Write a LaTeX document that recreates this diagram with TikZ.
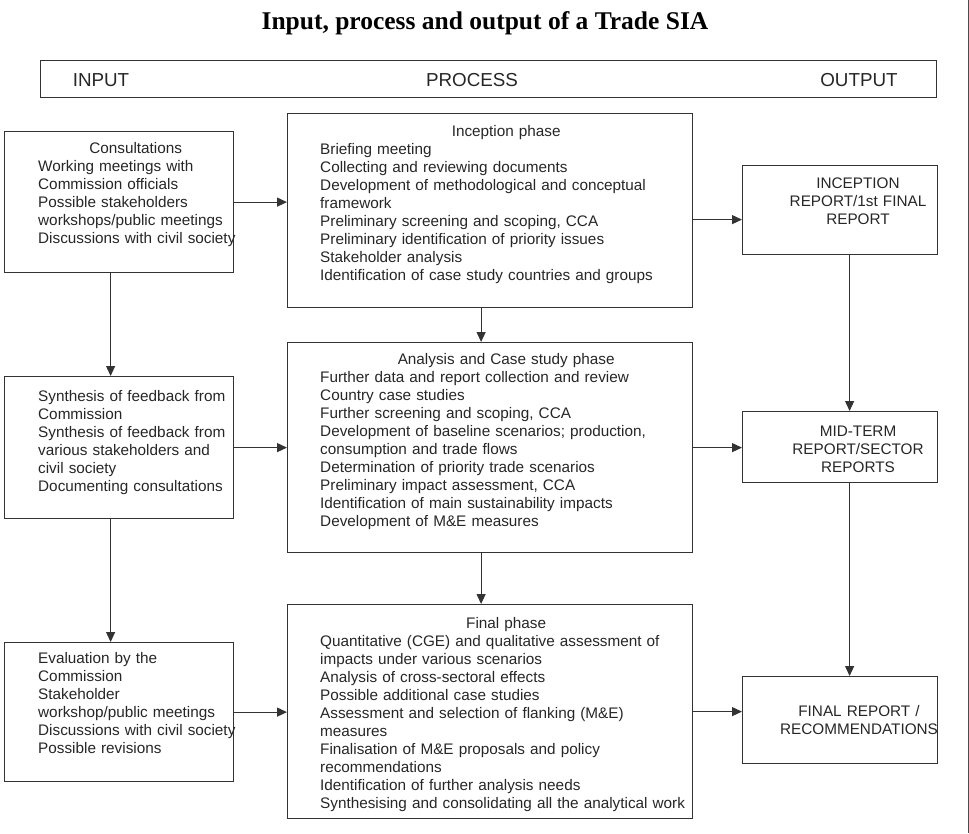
\documentclass[tikz,border=0pt]{standalone}
\usepackage{fontspec}
\setmainfont{Liberation Sans}
\newfontfamily\titlefont{Liberation Serif}
\usetikzlibrary{positioning,arrows.meta}

\begin{document}
\begin{tikzpicture}[x=1pt,y=-1pt,
    box/.style={draw=black!80, line width=1.2pt, inner sep=0pt, anchor=north west},
    txt/.style={inner sep=0pt, anchor=base west, align=left, text=black!85,
        font=\fontsize{15.3}{18}\selectfont},
    rep/.style={inner sep=0pt, anchor=base, text width=172pt, align=center, text=black!85,
        font=\fontsize{15.3}{18}\selectfont},
    hdr/.style={inner sep=0pt, anchor=base, text=black!85, font=\fontsize{18.8}{22}\selectfont},
    arr/.style={draw=black!80, line width=1.2pt, -{Triangle[length=10pt,width=9pt]}}]
    \useasboundingbox (0,0) rectangle (969,833);
    \node[inner sep=0pt, anchor=base, font=\titlefont\bfseries\fontsize{25.5}{30}\selectfont] (title) at (485,29) {Input, process and output of a Trade SIA};
    \node[box, minimum width=896pt, minimum height=37pt] (header) at (40,60) {};
    \node[hdr] (hin) at (101,86) {INPUT};
    \node[hdr] (hproc) at (472,86) {PROCESS};
    \node[hdr] (hout) at (859,86) {OUTPUT};
    \node[box, minimum width=229pt, minimum height=141pt] (cons) at (4,131) {};
    \node[box, minimum width=229pt, minimum height=142pt] (synth) at (4,376) {};
    \node[box, minimum width=229pt, minimum height=139pt] (evalu) at (4,642) {};
    \node[box, minimum width=405pt, minimum height=194pt] (incep) at (287,113) {};
    \node[box, minimum width=405pt, minimum height=210pt] (analys) at (287,342) {};
    \node[box, minimum width=405pt, minimum height=214pt] (final) at (287,604) {};
    \node[box, minimum width=195pt, minimum height=89pt] (increp) at (742,165) {};
    \node[box, minimum width=195pt, minimum height=71pt] (midrep) at (742,411) {};
    \node[box, minimum width=195pt, minimum height=87pt] (finrep) at (742,676) {};
    \node[txt, text width=300pt] (constxt) at (38,153.5) {\makebox[195pt]{Consultations}\\
        Working meetings with\\ Commission officials\\ Possible stakeholders\\
        workshops/public meetings\\ Discussions with civil society};
    \node[txt, text width=300pt] (synthtxt) at (38,401.5) {Synthesis of feedback from\\
        Commission\\ Synthesis of feedback from\\ various stakeholders and\\
        civil society\\ Documenting consultations};
    \node[txt, text width=300pt] (evalutxt) at (38,663.5) {Evaluation by the\\ Commission\\
        Stakeholder\\ workshop/public meetings\\ Discussions with civil society\\
        Possible revisions};
    \node[txt, text width=420pt] (inceptxt) at (320,136.5) {\makebox[372pt]{Inception phase}\\
        Briefing meeting\\ Collecting and reviewing documents\\
        Development of methodological and conceptual\\ framework\\
        Preliminary screening and scoping, CCA\\ Preliminary identification of priority issues\\
        Stakeholder analysis\\ Identification of case study countries and groups};
    \node[txt, text width=420pt] (analystxt) at (320,364.5) {\makebox[372pt]{Analysis and Case study phase}\\
        Further data and report collection and review\\ Country case studies\\
        Further screening and scoping, CCA\\
        Development of baseline scenarios; production,\\ consumption and trade flows\\
        Determination of priority trade scenarios\\ Preliminary impact assessment, CCA\\
        Identification of main sustainability impacts\\ Development of M\&E measures};
    \node[txt, text width=420pt] (finaltxt) at (320,628.5) {\makebox[372pt]{Final phase}\\
        Quantitative (CGE) and qualitative assessment of\\ impacts under various scenarios\\
        Analysis of cross-sectoral effects\\ Possible additional case studies\\
        Assessment and selection of flanking (M\&E)\\ measures\\
        Finalisation of M\&E proposals and policy\\ recommendations\\
        Identification of further analysis needs\\
        Synthesising and consolidating all the analytical work};
    \node[rep] (increptxt) at (858,188.5) {INCEPTION\\ REPORT/1st FINAL\\ REPORT};
    \node[rep] (midreptxt) at (858,436.5) {MID-TERM\\ REPORT/SECTOR\\ REPORTS};
    \node[rep] (finreptxt) at (859,716.5) {FINAL REPORT /\\ RECOMMENDATIONS};
    \draw[arr] (cons.east) -- (cons.east -| incep.west);
    \draw[arr] (synth.east) -- (synth.east -| analys.west);
    \draw[arr] (evalu.east) -- (evalu.east -| final.west);
    \draw[arr] ([yshift=-9pt]incep.east) -- ([yshift=-9pt]incep.east -| increp.west);
    \draw[arr] (analys.east) -- (analys.east -| midrep.west);
    \draw[arr] (final.east) -- (final.east -| finrep.west);
    \draw[arr] ([xshift=-8.5pt]cons.south) -- ([xshift=-8.5pt]synth.north);
    \draw[arr] ([xshift=-8.5pt]synth.south) -- ([xshift=-8.5pt]evalu.north);
    \draw[arr] ([xshift=-9pt]incep.south) -- ([xshift=-9pt]analys.north);
    \draw[arr] ([xshift=-9pt]analys.south) -- ([xshift=-9pt]final.north);
    \draw[arr] ([xshift=9.5pt]increp.south) -- ([xshift=9.5pt]midrep.north);
    \draw[arr] ([xshift=9.5pt]midrep.south) -- ([xshift=9.5pt]finrep.north);
    \draw[line width=1pt, black!70] (968,0) -- (968,833);
\end{tikzpicture}
\end{document}
